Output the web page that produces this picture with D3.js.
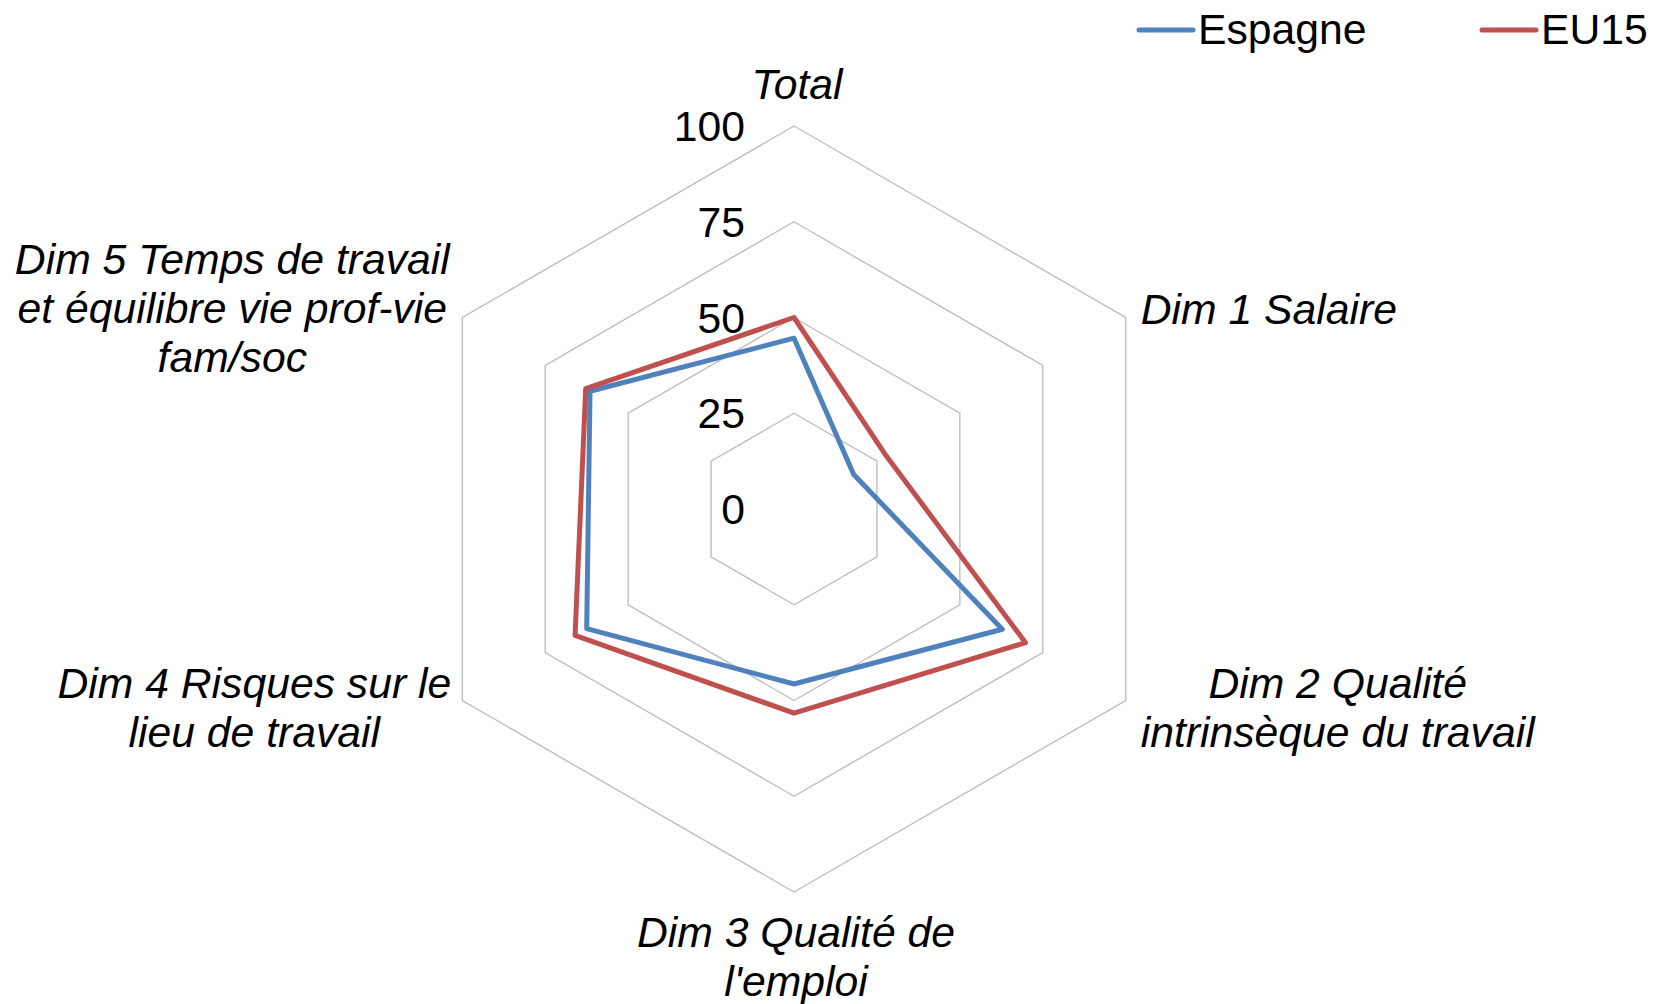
<!DOCTYPE html>
<html>
<head>
<meta charset="utf-8">
<script src="https://cdn.jsdelivr.net/npm/d3@7"></script>
<style>
  body { margin: 0; background: #fff; }
  svg { display: block; font-family: "Liberation Sans", Arial, sans-serif; }
</style>
</head>
<body>
<svg id="chart"></svg>
<script>
// data
const categories = [
  ['Total'],
  ['Dim 1 Salaire'],
  ['Dim 2 Qualité', 'intrinsèque du travail'],
  ['Dim 3 Qualité de', "l'emploi"],
  ['Dim 4 Risques sur le', 'lieu de travail'],
  ['Dim 5 Temps de travail', 'et équilibre vie prof-vie', 'fam/soc']
];
const seriesNames = ['Espagne', 'EU15'];
const espagne = [44.6, 18, 62.8, 45.7, 62.5, 61.5];
const eu15 = [50, 27.8, 69.8, 53.3, 66, 62.8];
const ticks = [0, 25, 50, 75, 100];

const colors = ['#4F81BD', '#C0504D'];

const width = 1664, height = 1004;
const cx = 794, cy = 509, radius = 383;
const fontSize = 42.7, lineHeight = 49;

// where each category label sits, relative to the end of its spoke
const labelLayout = [
  { anchor: 'middle', dx: 3, dy: -27 },
  { anchor: 'start', dx: 15, dy: 6 },
  { anchor: 'middle', dx: 212, dy: -2.5 },
  { anchor: 'middle', dx: 2, dy: 54.6 },
  { anchor: 'middle', dx: -208, dy: -2.5 },
  { anchor: 'middle', dx: -230, dy: -43.5 }
];

const svg = d3.select('#chart')
  .attr('width', width)
  .attr('height', height);

const r = d3.scaleLinear().domain([0, 100]).range([0, radius]);
const angle = i => i * 2 * Math.PI / categories.length;

const g = svg.append('g').attr('transform', `translate(${cx},${cy})`);

// hexagon grid
const ringLine = d3.lineRadial()
  .angle((d, i) => angle(i))
  .curve(d3.curveLinearClosed);

g.selectAll('.ring')
  .data(ticks.filter(t => t > 0))
  .join('path')
  .attr('class', 'ring')
  .attr('d', t => ringLine.radius(r(t))(categories))
  .attr('fill', 'none')
  .attr('stroke', '#BFBFBF')
  .attr('stroke-width', 1.4);

// tick labels
g.selectAll('.tick')
  .data(ticks)
  .join('text')
  .attr('class', 'tick')
  .attr('x', -49)
  .attr('y', t => -r(t) + 15)
  .attr('text-anchor', 'end')
  .style('font-size', fontSize + 'px')
  .attr('fill', '#000')
  .text(t => t);

// series
const seriesLine = d3.lineRadial()
  .angle((d, i) => angle(i))
  .radius(d => r(d))
  .curve(d3.curveLinearClosed);

[espagne, eu15].forEach((values, k) => {
  g.append('path')
    .attr('d', seriesLine(values))
    .attr('fill', 'none')
    .attr('stroke', colors[k])
    .attr('stroke-width', 5)
    .attr('stroke-linejoin', 'round');
});

// category labels
categories.forEach((lines, i) => {
  const a = angle(i);
  const px = r(100) * Math.sin(a);
  const py = -r(100) * Math.cos(a);
  const lay = labelLayout[i];
  const t = g.append('text')
    .attr('text-anchor', lay.anchor)
    .style('font-size', fontSize + 'px')
    .style('font-style', 'italic')
    .attr('fill', '#000');
  lines.forEach((line, j) => {
    t.append('tspan')
      .attr('x', px + lay.dx)
      .attr('y', py + lay.dy + j * lineHeight)
      .text(line);
  });
});

// legend
const legendX = [1139, 1482];
const legend = svg.selectAll('.legend')
  .data(seriesNames)
  .join('g')
  .attr('class', 'legend')
  .attr('transform', (d, i) => `translate(${legendX[i]},30)`);

legend.append('line')
  .attr('x1', 0).attr('x2', 54)
  .attr('y1', 0).attr('y2', 0)
  .attr('stroke', (d, i) => colors[i])
  .attr('stroke-width', 5)
  .attr('stroke-linecap', 'round');

legend.append('text')
  .attr('x', 59)
  .attr('y', 14)
  .style('font-size', fontSize + 'px')
  .attr('fill', '#000')
  .text(d => d);
</script>
</body>
</html>
